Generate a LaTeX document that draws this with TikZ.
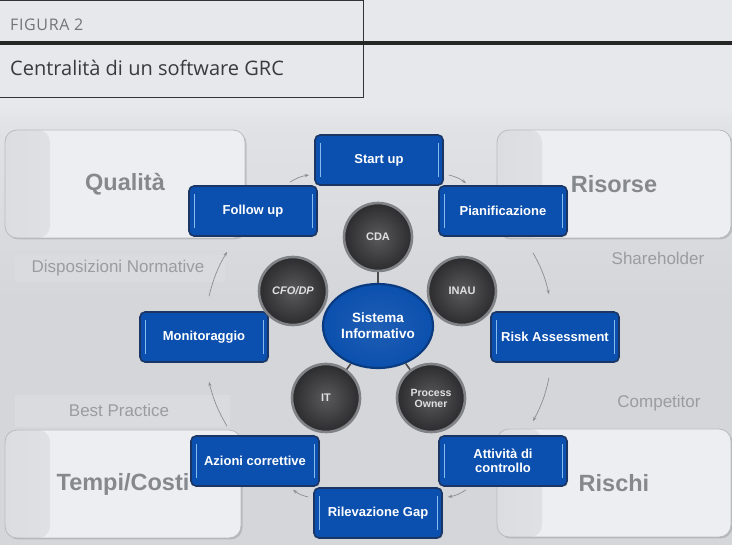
\documentclass[tikz,border=0pt]{standalone}
\usepackage{fontspec}
\setmainfont{Liberation Sans}
\newfontfamily\figfont{Open Sans}
\usetikzlibrary{shapes.geometric,arrows.meta,shadows}

\definecolor{pagebg}{HTML}{E6E8EC}
\definecolor{areabg}{HTML}{D4D6DA}
\definecolor{areatop}{HTML}{E0E2E6}
\definecolor{bandbg}{HTML}{D9DBDE}
\definecolor{panelfill}{HTML}{EDEEF1}
\definecolor{panelshade}{HTML}{DCDDE0}
\definecolor{panelline}{HTML}{B9BBBF}
\definecolor{panelink}{HTML}{85888D}
\definecolor{softink}{HTML}{9A9CA0}
\definecolor{stepblue}{HTML}{0B50AE}
\definecolor{stepedge}{HTML}{1B3665}
\definecolor{stepglow}{HTML}{86BBF0}
\definecolor{discin}{HTML}{5A5A5D}
\definecolor{discout}{HTML}{2C2C2E}
\definecolor{discring}{HTML}{808286}
\definecolor{sisedge}{HTML}{0A3B80}
\definecolor{flowgray}{HTML}{8A8D92}
\definecolor{headink}{HTML}{3A3A3C}
\definecolor{headsoft}{HTML}{747478}

\newcommand\stepfont{\bfseries\fontsize{13}{14.5}\selectfont}
\newcommand\discfont{\bfseries\fontsize{11}{12}\selectfont}
\newcommand\panelfont{\bfseries\fontsize{23.5}{26}\selectfont}
\newcommand\softfont{\fontsize{17}{20}\selectfont}

\begin{document}
\begin{tikzpicture}[x=1pt,y=-1pt,
  panel/.style={rectangle, rounded corners=12pt, fill=panelfill, draw=panelline,
    line width=0.8pt, text=panelink, font=\panelfont, minimum height=108pt,
    drop shadow={shadow xshift=1.5pt, shadow yshift=-1.5pt, opacity=0.35},
    path picture={\fill[left color=panelshade, right color=panelfill]
      (path picture bounding box.south west) rectangle
      ([xshift=45pt]path picture bounding box.north west);}},
  stepbox/.style={rectangle, rounded corners=5pt, fill=stepblue, draw=stepedge,
    line width=1.6pt, text=white, font=\stepfont, align=center,
    minimum width=128pt, minimum height=50pt, inner sep=2pt,
    drop shadow={shadow xshift=1pt, shadow yshift=-1pt, opacity=0.3},
    path picture={
      \draw[stepglow, line width=0.9pt]
        ([xshift=5pt,yshift=8pt]path picture bounding box.south west) --
        ([xshift=5pt,yshift=-8pt]path picture bounding box.north west);
      \draw[stepglow, line width=0.9pt]
        ([xshift=-5pt,yshift=8pt]path picture bounding box.south east) --
        ([xshift=-5pt,yshift=-8pt]path picture bounding box.north east);}},
  disc/.style={circle, minimum size=68pt, inner sep=0pt, inner color=discin,
    outer color=discout, draw=discring, line width=2.6pt, text=white!88!black,
    font=\discfont, align=center,
    drop shadow={shadow xshift=1pt, shadow yshift=-1pt, opacity=0.4}},
  hub/.style={ellipse, minimum width=110pt, minimum height=84pt, inner sep=0pt,
    inner color=stepblue!92!white, outer color=stepblue, draw=sisedge,
    line width=2.2pt, text=white, font=\bfseries\fontsize{13.5}{16}\selectfont,
    align=center},
  softlabel/.style={text=softink, font=\softfont},
  link/.style={draw=black!70, line width=1.6pt},
  flow/.style={draw=flowgray, line width=0.7pt,
    -{Stealth[length=4.5pt,width=3.2pt]}}
]
\useasboundingbox (0,0) rectangle (732,545);

% page and diagram backgrounds
\fill[pagebg] (0,0) rectangle (732,545);
\shade[top color=pagebg, bottom color=areatop] (0,108) rectangle (732,126);
\shade[top color=areatop, bottom color=areabg] (0,126) rectangle (732,300);
\fill[areabg] (0,300) rectangle (732,545);
\fill[bandbg] (15,255) rectangle (225,282);
\fill[bandbg] (15,395) rectangle (230,427);

% heading block
\draw[black!80, line width=1pt] (0,0.5) -- (363,0.5) -- (363,98) -- (0,98);
\draw[black!85, line width=4pt] (0,43) -- (732,43);
\node[anchor=west, inner sep=0pt, text=headsoft,
  font=\figfont\fontsize{16}{18}\selectfont\addfontfeatures{LetterSpace=4}]
  (figno) at (10,25) {FIGURA 2};
\node[anchor=west, inner sep=0pt, text=headink,
  font=\figfont\fontsize{20}{23}\selectfont] (figtitle) at (10,68)
  {Centralità di un software GRC};

% corner panels
\node[panel, minimum width=240pt] (qualita) at (125,184) {Qualità};
\node[panel, minimum width=234pt] (risorse) at (614,184) {Risorse};
\node[panel, minimum width=236pt] (tempi) at (123,484) {Tempi/Costi};
\node[panel, minimum width=234pt] (rischi) at (614,483) {Rischi};

% side labels
\node[softlabel] (norme) at (118,268) {Disposizioni Normative};
\node[softlabel] (share) at (658,258) {Shareholder};
\node[softlabel] (best) at (119,410) {Best Practice};
\node[softlabel] (compet) at (659,403) {Competitor};

% process steps
\node[stepbox] (startup) at (379,160) {Start up};
\node[stepbox] (pianif) at (503,211) {Pianificazione};
\node[stepbox] (risk) at (555,337) {Risk Assessment};
\node[stepbox] (attiv) at (503,461) {Attività di\\controllo};
\node[stepbox] (rilev) at (378,513) {Rilevazione Gap};
\node[stepbox] (azioni) at (255,461) {Azioni correttive};
\node[stepbox] (monit) at (204,337) {Monitoraggio};
\node[stepbox] (follow) at (253,211) {Follow up};

% actors around the information system
\node[hub] (sis) at (378,326) {Sistema\\Informativo};
\node[disc] (cda) at (378,237) {CDA};
\node[disc, font=\bfseries\itshape\fontsize{11}{12}\selectfont] (cfo) at (293,291) {CFO/DP};
\node[disc] (inau) at (462,291) {INAU};
\node[disc] (it) at (326,398) {IT};
\node[disc, font=\bfseries\fontsize{10.5}{11}\selectfont] (owner) at (431,398) {Process\\Owner};

\draw[link] (sis) -- (cda);
\draw[link] (sis) -- (it);
\draw[link] (sis) -- (owner);

% cycle of the process steps
\draw[flow] ([xshift=5pt,yshift=-15pt]startup.east) to[bend left=12]
  ([xshift=-37pt,yshift=2pt]pianif.north);
\draw[flow] ([xshift=30pt,yshift=-16pt]pianif.south) to[bend left=8]
  ([xshift=-6pt,yshift=17pt]risk.north);
\draw[flow] ([xshift=-6pt,yshift=-15pt]risk.south) to[bend left=8]
  ([xshift=30pt,yshift=14pt]attiv.north);
\draw[flow] ([xshift=-37pt,yshift=-3pt]attiv.south) to[bend left=12]
  ([xshift=5pt,yshift=16pt]rilev.east);
\draw[flow] ([xshift=-5pt,yshift=16pt]rilev.west) to[bend left=12]
  ([xshift=38pt,yshift=-3pt]azioni.south);
\draw[flow] ([xshift=-28pt,yshift=9pt]azioni.north) to[bend left=8]
  ([xshift=5pt,yshift=-19pt]monit.south);
\draw[flow] ([xshift=5pt,yshift=15pt]monit.north) to[bend left=8]
  ([xshift=-26pt,yshift=-15pt]follow.south);
\draw[flow] ([xshift=37pt,yshift=3pt]follow.north) to[bend left=12]
  ([xshift=-5pt,yshift=-15pt]startup.west);
\end{tikzpicture}
\end{document}
